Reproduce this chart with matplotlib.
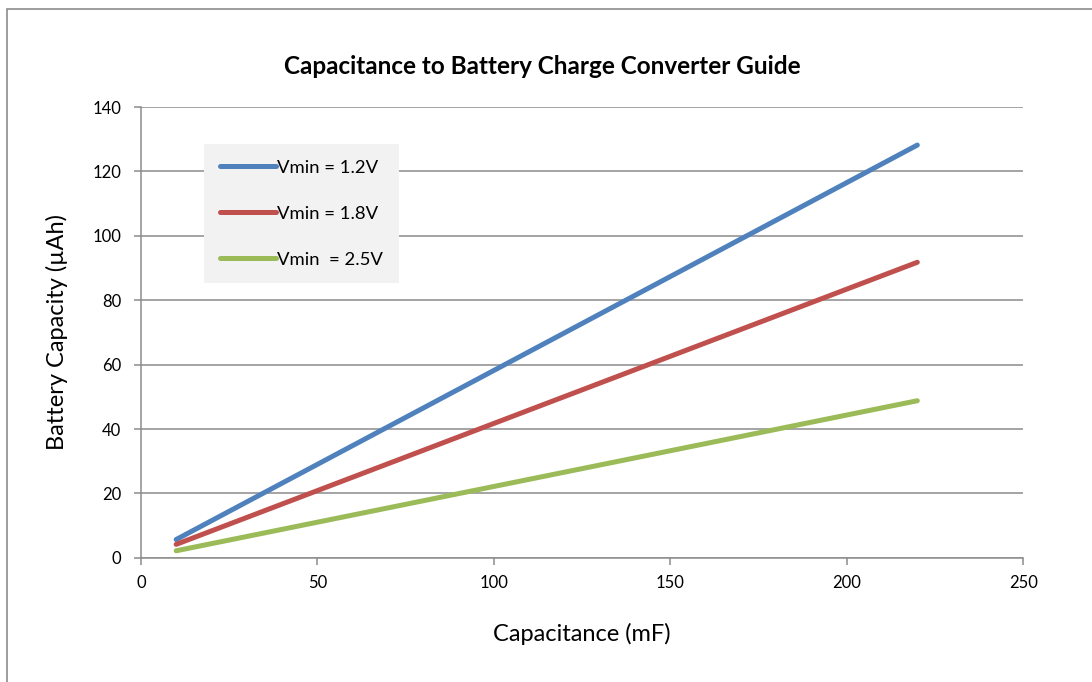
import numpy as np
import matplotlib.pyplot as plt
from matplotlib.patches import Rectangle

# Datos
cap = np.array([10, 220])          # mF
v12 = np.array([5.7, 128.2])       # Vmin = 1.2V
v18 = np.array([4.2, 91.8])        # Vmin = 1.8V
v25 = np.array([2.2, 48.8])        # Vmin = 2.5V
etiquetas = ["Vmin = 1.2V", "Vmin = 1.8V", "Vmin  = 2.5V"]

plt.rcParams['font.family'] = ['Lato', 'DejaVu Sans']

fig = plt.figure(figsize=(10.92, 6.82), dpi=100)
ax = fig.add_axes([0.129, 0.182, 0.808, 0.661])

# marco exterior del grafico
fig.patches.append(Rectangle((7 / 1092, -0.1), 1.2, 1.1 - 9 / 682,
                             transform=fig.transFigure, fill=False,
                             edgecolor='#8c8c8c', linewidth=1.2))

ax.plot(cap, v12, color='#4f81bd', lw=3.6, solid_capstyle='round', label=etiquetas[0])
ax.plot(cap, v18, color='#c0504d', lw=3.6, solid_capstyle='round', label=etiquetas[1])
ax.plot(cap, v25, color='#9bbb59', lw=3.6, solid_capstyle='round', label=etiquetas[2])

ax.set_xlim(0, 250)
ax.set_ylim(0, 140)
ax.set_xticks(np.arange(0, 251, 50))
ax.set_yticks(np.arange(0, 141, 20))
ax.yaxis.grid(True, color='#8c8c8c', lw=1.1)
ax.set_axisbelow(True)
for s in ['top', 'right']:
    ax.spines[s].set_visible(False)
for s in ['left', 'bottom']:
    ax.spines[s].set_color('#8c8c8c')
    ax.spines[s].set_linewidth(1.1)
ax.tick_params(colors='#8c8c8c', labelcolor='black', labelsize=12, length=5, width=1.1)
ax.tick_params(axis='y', pad=9)
ax.tick_params(axis='x', pad=7)

ax.set_title('Capacitance to Battery Charge Converter Guide', fontsize=17.5,
             fontweight='bold', pad=24, x=0.455)
ax.set_xlabel('Capacitance (mF)', fontsize=17, labelpad=23)
ax.set_ylabel('Battery Capacity (\u00b5Ah)', fontsize=17, labelpad=18)

leg = ax.legend(loc='upper left', bbox_to_anchor=(0.072, 0.918), fontsize=13.3,
                handlelength=3.0, handletextpad=0.08, labelspacing=1.62,
                borderpad=0.85, borderaxespad=0, frameon=True, fancybox=False)
leg.get_frame().set_facecolor('#f2f2f2')
leg.get_frame().set_edgecolor('none')
leg.get_frame().set_alpha(1)

plt.savefig('out.png', dpi=100)
